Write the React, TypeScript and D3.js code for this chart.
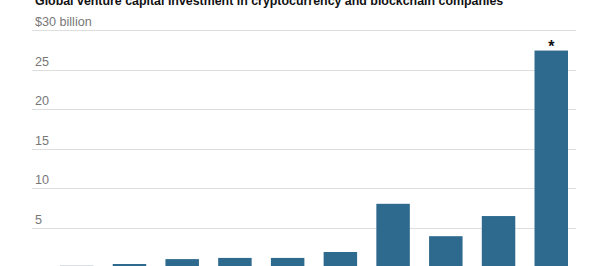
import React from "react";
import * as d3 from "d3";

// Annual global VC investment in crypto / blockchain companies, in billions of dollars
const years = ["2012", "2013", "2014", "2015", "2016", "2017", "2018", "2019", "2020", "2021"];
const investment = [0.25, 0.38, 1.0, 1.15, 1.15, 1.9, 8.0, 3.9, 6.45, 27.4];
const yTicks = [5, 10, 15, 20, 25, 30];
const partialYear = "2021";

const W = 600;
const H = 266;

export default function App() {
  const x = d3.scaleBand<string>().domain(years).range([60, 568]).paddingInner(0.365).paddingOuter(0);
  const y = d3.scaleLinear().domain([0, 30]).range([267, 30]);

  const tickLabel = (t: number) => (t === 30 ? "$30 billion" : String(t));

  return (
    <svg
      width={W}
      height={H}
      style={{ position: "absolute", left: 0, top: 0, background: "#fff" }}
      fontFamily="'Liberation Sans', Arial, sans-serif"
    >
      <text x={35} y={5} fontSize={12.4} fontWeight={700} fill="#121212">
        Global venture capital investment in cryptocurrency and blockchain companies
      </text>

      {yTicks.map((t) => (
        <g key={t}>
          <line x1={32} x2={576} y1={Math.round(y(t)) + 0.5} y2={Math.round(y(t)) + 0.5} stroke="#dedede" strokeWidth={1} />
          <text x={35} y={y(t) - 4} fontSize={12.6} fill="#777">
            {tickLabel(t)}
          </text>
        </g>
      ))}

      {years.map((yr, i) => (
        <rect
          key={yr}
          x={x(yr)}
          width={x.bandwidth()}
          y={y(investment[i])}
          height={y(0) - y(investment[i])}
          fill={i === 0 ? "#dcdfe2" : "#2e6a8e"}
        />
      ))}

      {years.map((yr, i) =>
        yr === partialYear ? (
          <text
            key={"a" + yr}
            x={(x(yr) as number) + x.bandwidth() / 2}
            y={y(investment[i]) + 1.5}
            fontSize={16}
            fontWeight={700}
            textAnchor="middle"
            fill="#121212"
          >
            *
          </text>
        ) : null
      )}
    </svg>
  );
}
